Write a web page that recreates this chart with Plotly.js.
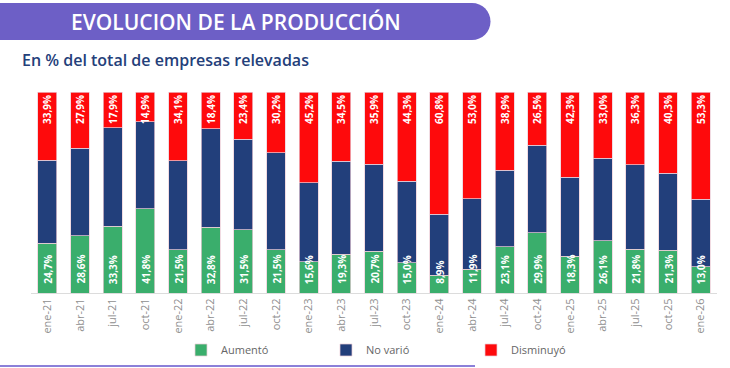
<!DOCTYPE html>
<html>
<head>
<meta charset="utf-8">
<script src="https://cdn.plot.ly/plotly-3.0.1.min.js"></script>
<style>html,body{margin:0;padding:0;background:#fff;}#chart{width:730px;height:368px;}</style>
</head>
<body>
<div id="chart"></div>
<script>
const categories = ["ene-21","abr-21","jul-21","oct-21","ene-22","abr-22","jul-22","oct-22","ene-23","abr-23","jul-23","oct-23","ene-24","abr-24","jul-24","oct-24","ene-25","abr-25","jul-25","oct-25","ene-26"];
const aumento = [24.7,28.6,33.3,41.8,21.5,32.8,31.5,21.5,15.6,19.3,20.7,15.0,8.9,11.9,23.1,29.9,18.3,26.1,21.8,21.3,13.0];
const novario = [41.4,43.5,48.8,43.3,44.4,48.8,45.1,48.3,39.2,46.2,43.4,40.7,30.3,35.1,38.0,43.6,39.4,40.9,41.9,38.4,33.7];
const disminuyo = [33.9,27.9,17.9,14.9,34.1,18.4,23.4,30.2,45.2,34.5,35.9,44.3,60.8,53.0,38.9,26.5,42.3,33.0,36.3,40.3,53.3];

const W = 730, H = 368;
const px = x => x / W;
const py = y => 1 - y / H;
const fmt = v => v.toFixed(1).replace('.', ',') + '%';
const FONT = '"Open Sans", sans-serif';
const border = {color: 'rgba(235,205,215,0.9)', width: 0.8};

const labelFont = {family: FONT, size: 10, color: '#ffffff', weight: 700};

const traces = [
  {type: 'bar', name: 'Aumentó', x: categories, y: aumento, marker: {color: '#3aae6c', line: border},
   hoverinfo: 'none'},
  {type: 'bar', name: 'No varió', x: categories, y: novario, marker: {color: '#223f7b', line: border},
   hoverinfo: 'none'},
  {type: 'bar', name: 'Disminuyó', x: categories, y: disminuyo, marker: {color: '#fe0a0c', line: border},
   text: disminuyo.map(fmt), textposition: 'inside', insidetextanchor: 'end', textangle: -90,
   textfont: labelFont, hoverinfo: 'none', cliponaxis: false}
];

// labels of the "Aumentó" segments, anchored on the base of each bar
const greenLabels = categories.map((c, i) => ({
  text: fmt(aumento[i]), x: c, y: 0, xref: 'x', yref: 'y',
  xanchor: 'center', yanchor: 'bottom', yshift: 7, textangle: -90, showarrow: false,
  font: labelFont
}));

const banner = 'M ' + px(-5) + ',' + py(3) + ' L ' + px(472) + ',' + py(3) +
  ' C ' + px(482) + ',' + py(3) + ' ' + px(490.5) + ',' + py(11) + ' ' + px(490.5) + ',' + py(21.5) +
  ' C ' + px(490.5) + ',' + py(32) + ' ' + px(482) + ',' + py(40) + ' ' + px(472) + ',' + py(40) +
  ' L ' + px(-5) + ',' + py(40) + ' Z';

const layout = {
  width: W, height: H,
  margin: {l: 0, r: 0, t: 0, b: 0},
  paper_bgcolor: '#ffffff', plot_bgcolor: '#ffffff',
  barmode: 'stack', bargap: 0.42,
  uniformtext: {mode: 'show', minsize: 10},
  font: {family: FONT},
  xaxis: {domain: [px(31), px(717)], type: 'category', tickangle: -90,
    tickfont: {family: FONT, size: 11, color: '#8f8f8f'},
    showline: true, linecolor: '#dcdcdc', linewidth: 1, ticks: '', showgrid: false, fixedrange: true},
  yaxis: {domain: [py(293), py(92)], range: [0, 100], visible: false, fixedrange: true},
  showlegend: true,
  legend: {orientation: 'h', x: px(181), xanchor: 'left', y: py(350), yanchor: 'middle',
    font: {family: FONT, size: 11, color: '#666666'}, entrywidth: 100, entrywidthmode: 'pixels',
    traceorder: 'normal', bgcolor: 'rgba(0,0,0,0)'},
  shapes: [
    {type: 'path', xref: 'paper', yref: 'paper', path: banner, fillcolor: '#6d5fc6', line: {width: 0}, layer: 'below'},
    {type: 'line', xref: 'paper', yref: 'paper', x0: px(0), x1: px(475), y0: py(366), y1: py(366),
     line: {color: '#8b80d9', width: 2}}
  ],
  annotations: [
    {text: 'EVOLUCION DE LA PRODUCCIÓN', xref: 'paper', yref: 'paper', x: px(236), y: py(22),
     xanchor: 'center', yanchor: 'middle', showarrow: false,
     font: {family: FONT, size: 21, color: '#ffffff', weight: 600}},
    {text: 'En % del total de empresas relevadas', xref: 'paper', yref: 'paper', x: px(20), y: py(60),
     xanchor: 'left', yanchor: 'middle', showarrow: false,
     font: {family: FONT, size: 16, color: '#24407a', weight: 600}}
  ].concat(greenLabels)
};

Plotly.newPlot('chart', traces, layout, {displayModeBar: false, staticPlot: true});
</script>
</body>
</html>
